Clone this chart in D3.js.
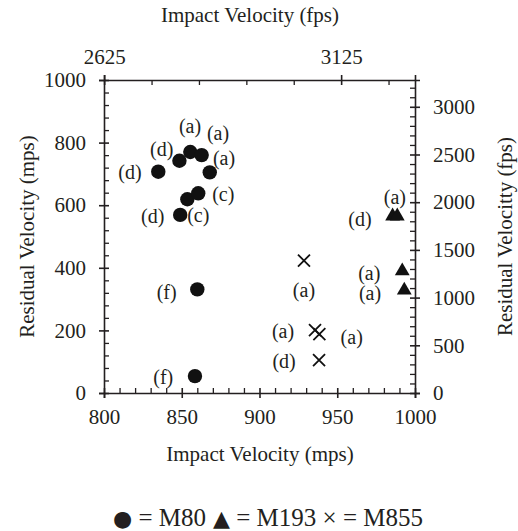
<!DOCTYPE html>
<head>
<meta charset="utf-8">
<script src="https://d3js.org/d3.v7.min.js"></script>
<style>
  body { margin: 0; background: #fff; }
  text { font-family: "Liberation Serif", "Times New Roman", serif; fill: #231f20; }
</style>
</head>
<body>
<div id="chart"></div>
<script>
// data (mps)
var m80X = [834.9, 848.5, 855.5, 862.8, 868, 853.6, 860.6, 849, 860, 858.5];
var m80Y = [707, 742, 770, 760, 705, 619, 638, 569, 331, 54];
var m193X = [985.6, 988.6, 991.8, 993.1];
var m193Y = [565, 565, 390, 328];
var m855X = [928.6, 935.7, 938.5, 938.3];
var m855Y = [423, 201, 188, 105];

// condition labels, placed in data units
var labelText = ["(a)", "(a)", "(a)", "(d)", "(d)", "(c)", "(c)", "(d)", "(f)", "(f)",
                 "(a)", "(d)", "(a)", "(a)", "(a)", "(a)", "(a)", "(d)"];
var labelX = [855.3, 873.3, 877.2, 837.1, 816.7, 876.7, 860.6, 831.3, 840.3, 838.1,
              987.1, 964.6, 970.6, 971.1, 928.6, 915.1, 959.3, 915.8];
var labelY = [853, 831, 751, 779, 707, 636, 569, 566, 324, 50,
              626, 556, 384, 320, 329, 198, 180, 102];

var xMajor = [800, 850, 900, 950, 1000];
var yMajor = [0, 200, 400, 600, 800, 1000];
var fpsTop = [2625, 3125];
var fpsRight = [0, 500, 1000, 1500, 2000, 2500, 3000];

var legendSym = ["\u25CF", "\u25B2", "\u00D7"];
var legendName = ["M80", "M193", "M855"];

var FT = 3.28084; // ft per m
var width = 518, height = 531;
var pLeft = 104, pRight = 415, pTop = 80, pBottom = 393;
var ink = "#231f20";
var fmt = d3.format("d");

var svg = d3.select("#chart").append("svg")
  .attr("width", width)
  .attr("height", height);

var x = d3.scaleLinear().domain([800, 1000]).range([pLeft, pRight]);
var y = d3.scaleLinear().domain([0, 1000]).range([pBottom, pTop]);
var xf = d3.scaleLinear().domain([800 * FT, 1000 * FT]).range([pLeft, pRight]);
var yf = d3.scaleLinear().domain([0, 1000 * FT]).range([pBottom, pTop]);

// major ticks cross the axis line, minor ones point inward
function styleAxis(g, vertical) {
  g.select(".domain").attr("stroke", ink).attr("stroke-width", 1.6);
  g.selectAll(".tick line").attr("stroke", ink).attr("stroke-width", 1.6);
  g.selectAll(".tick text").attr("font-size", 21).attr("fill", ink)
    .attr("font-family", "Liberation Serif");
  if (vertical) g.selectAll(".tick line").attr("x1", -5).attr("x2", 5);
  else g.selectAll(".tick line").attr("y1", -5).attr("y2", 5);
}
function minor(axis, g) {
  g.call(axis.tickSize(-5).tickFormat(""));
  g.select(".domain").remove();
  g.selectAll(".tick line").attr("stroke", ink).attr("stroke-width", 1.3);
}

// bottom
var gb = svg.append("g").attr("transform", "translate(0," + pBottom + ")");
gb.call(d3.axisBottom(x).tickValues(xMajor).tickFormat(fmt).tickSizeOuter(0).tickSize(5).tickPadding(11));
styleAxis(gb, false);
minor(d3.axisBottom(x).tickValues(d3.range(800, 1001, 10).filter(function(d){ return d % 50; })),
  svg.append("g").attr("transform", "translate(0," + pBottom + ")"));

// top (fps)
var gt = svg.append("g").attr("transform", "translate(0," + pTop + ")");
gt.call(d3.axisTop(xf).tickValues(fpsTop).tickFormat(fmt).tickSizeOuter(0).tickSize(5).tickPadding(11));
styleAxis(gt, false);
minor(d3.axisTop(xf).tickValues(d3.range(2725, 3281, 100).filter(function(d){ return d !== 3125; })),
  svg.append("g").attr("transform", "translate(0," + pTop + ")"));

// left
var gl = svg.append("g").attr("transform", "translate(" + pLeft + ",0)");
gl.call(d3.axisLeft(y).tickValues(yMajor).tickFormat(fmt).tickSizeOuter(0).tickSize(5).tickPadding(13));
styleAxis(gl, true);
minor(d3.axisLeft(y).tickValues(d3.range(0, 1001, 40).filter(function(d){ return d % 200; })),
  svg.append("g").attr("transform", "translate(" + pLeft + ",0)"));

// right (fps)
var gr = svg.append("g").attr("transform", "translate(" + pRight + ",0)");
gr.call(d3.axisRight(yf).tickValues(fpsRight).tickFormat(fmt).tickSizeOuter(0).tickSize(5).tickPadding(13));
styleAxis(gr, true);
minor(d3.axisRight(yf).tickValues(d3.range(100, 3281, 100).filter(function(d){ return d % 500; })),
  svg.append("g").attr("transform", "translate(" + pRight + ",0)"));

// axis titles
svg.append("text").attr("x", 250).attr("y", 22).attr("text-anchor", "middle")
  .attr("font-size", 21).text("Impact Velocity (fps)");
svg.append("text").attr("x", 260).attr("y", 461).attr("text-anchor", "middle")
  .attr("font-size", 21).text("Impact Velocity (mps)");
svg.append("text").attr("transform", "translate(34," + (pTop + pBottom) / 2 + ") rotate(-90)")
  .attr("text-anchor", "middle").attr("font-size", 21).text("Residual Velocity (mps)");
svg.append("text").attr("transform", "translate(512," + (pTop + pBottom) / 2 + ") rotate(-90)")
  .attr("text-anchor", "middle").attr("font-size", 21).text("Residual Velocitty (fps)");

// M80 circles
svg.append("g").selectAll("circle").data(m80X).enter().append("circle")
  .attr("cx", function(d){ return x(d); })
  .attr("cy", function(d, i){ return y(m80Y[i]); })
  .attr("r", 7.2)
  .attr("fill", "#111");

// M193 triangles
var tri = d3.symbol().type(d3.symbolTriangle).size(95);
svg.append("g").selectAll("path").data(m193X).enter().append("path")
  .attr("d", tri)
  .attr("transform", function(d, i){ return "translate(" + x(d) + "," + y(m193Y[i]) + ")"; })
  .attr("fill", "#111");

// M855 crosses
var cross = svg.append("g").selectAll("g").data(m855X).enter().append("g")
  .attr("transform", function(d, i){ return "translate(" + x(d) + "," + y(m855Y[i]) + ")"; });
cross.append("path").attr("d", "M-6,-6L6,6M-6,6L6,-6")
  .attr("stroke", "#111").attr("stroke-width", 1.8);

// condition labels
svg.append("g").selectAll("text").data(labelText).enter().append("text")
  .attr("x", function(d, i){ return x(labelX[i]); })
  .attr("y", function(d, i){ return y(labelY[i]); })
  .attr("dy", "0.35em")
  .attr("text-anchor", "middle")
  .attr("font-size", 20)
  .text(function(d){ return d; });

// legend: symbols as bigger tspans
var leg = svg.append("text").attr("x", 268).attr("y", 526).attr("text-anchor", "middle")
  .attr("font-size", 25);
legendSym.forEach(function(s, i){
  leg.append("tspan").attr("font-size", i == 2 ? 25 : 22)
    .attr("font-family", i == 2 ? "Liberation Serif" : "DejaVu Sans")
    .text((i ? " " : "") + s);
  leg.append("tspan").text(" = " + legendName[i]);
});
</script>
</body>
